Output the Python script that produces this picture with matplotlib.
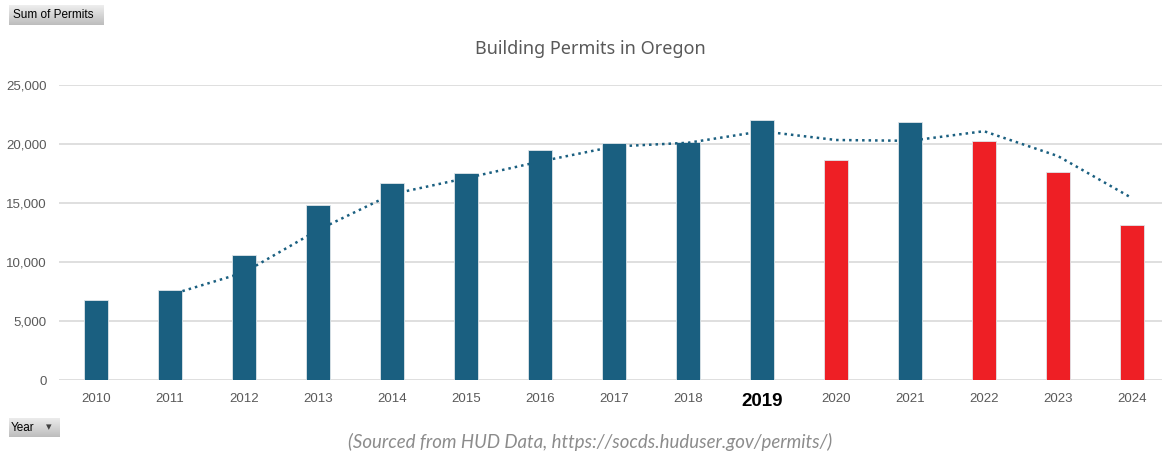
import numpy as np
import matplotlib
matplotlib.use("Agg")
import matplotlib.pyplot as plt

# -----------------------------
# Data
# -----------------------------
years = ["2010", "2011", "2012", "2013", "2014", "2015", "2016", "2017",
         "2018", "2019", "2020", "2021", "2022", "2023", "2024"]
permits = [6800, 7630, 10590, 14830, 16670, 17540, 19490, 20080,
           20130, 22030, 18650, 21890, 20280, 17670, 13160]
# 2-period moving average trendline (starts at 2011)
trend = [None, 7215, 9110, 12710, 15750, 17105, 18515, 19785,
         20105, 21080, 20340, 20270, 21085, 18975, 15415]
red_years = ["2020", "2022", "2023", "2024"]
highlight_year = "2019"

blue = "#1a5f80"
red = "#ee1f25"
grey_text = "#595959"

fig = plt.figure(figsize=(11.62, 4.61), dpi=100)
ax = fig.add_axes([59 / 1162, 0.1757, 1110 / 1162, 0.6399])

x = np.arange(len(years))
colors = [red if y in red_years else blue for y in years]
ax.bar(x, permits, width=0.315, color=colors, edgecolor="#dfe6ea",
       linewidth=0.6, zorder=3)

tx = [i for i, v in enumerate(trend) if v is not None]
ty = [v for v in trend if v is not None]
ax.plot(tx, ty, color=blue, linestyle=(0, (1, 1.6)), linewidth=1.8, zorder=4)

ax.set_xlim(-0.5, len(years) - 0.5)
ax.set_ylim(0, 25000)
ax.set_yticks(range(0, 25001, 5000))
ax.set_yticklabels([f"{v:,}" for v in range(0, 25001, 5000)],
                   fontfamily="Liberation Sans")
ax.grid(axis="y", color="#d9d9d9", linewidth=1.2, zorder=0)
ax.set_axisbelow(True)
for s in ax.spines.values():
    s.set_visible(False)
ax.tick_params(axis="both", length=0, labelsize=9.5, labelcolor=grey_text)
ax.tick_params(axis="y", pad=9)
ax.tick_params(axis="x", pad=9)
ax.set_xticks(x)
ax.set_xticklabels(years, fontfamily="Liberation Sans")
for lbl in ax.get_xticklabels():
    if lbl.get_text() == highlight_year:
        lbl.set_fontsize(13.5)
        lbl.set_fontweight("bold")
        lbl.set_color("black")

fig.text(0.508, 0.893, "Building Permits in Oregon", ha="center", va="center",
         fontsize=13, color=grey_text, fontfamily="Noto Sans")

fig.text(0.508, 0.022, "(Sourced from HUD Data, https://socds.huduser.gov/permits/)",
         ha="center", va="bottom", fontsize=13.4, color="#8c8c8c",
         fontstyle="italic", fontfamily="Lato")

# -----------------------------
# Pivot-style buttons
# -----------------------------
grad = np.linspace(0.93, 0.74, 50).reshape(-1, 1)

def button(x0, y0, w, h, label):
    bax = fig.add_axes([x0 / 1162, 1 - (y0 + h) / 461, w / 1162, h / 461])
    bax.imshow(grad, cmap="gray", vmin=0, vmax=1, aspect="auto",
               extent=[0, 1, 0, 1])
    bax.set_xlim(0, 1)
    bax.set_ylim(0, 1)
    bax.axis("off")
    bax.text(0.04, 0.5, label, ha="left", va="center", fontsize=8.5,
             color="black", fontfamily="Liberation Sans")
    return bax

button(9, 5, 95, 20, "Sum of Permits")
yb = button(9, 418, 51, 19, "Year")
yb.text(0.78, 0.5, "\u25be", ha="center", va="center", fontsize=8,
        color="#404040", fontfamily="DejaVu Sans")

fig.savefig("out.png", dpi=100)
